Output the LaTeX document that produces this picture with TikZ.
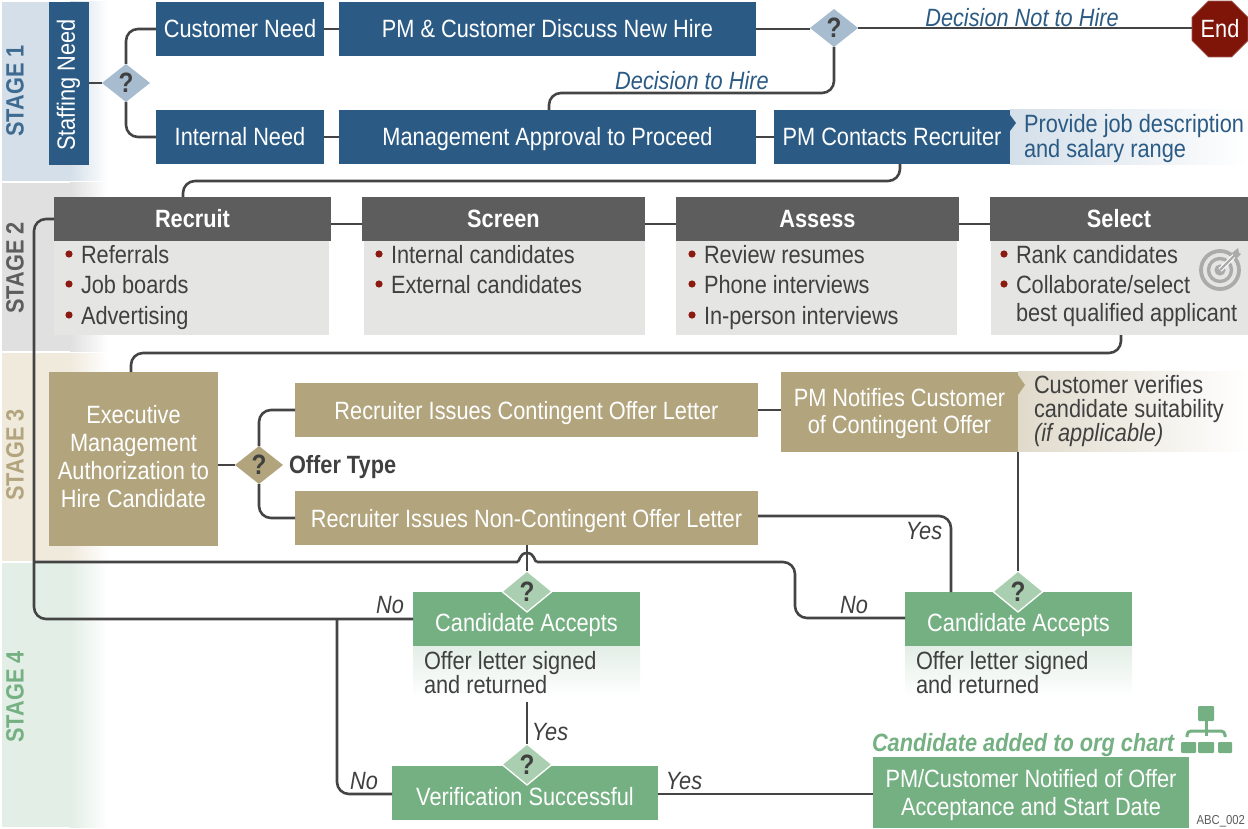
\documentclass[tikz,border=0pt]{standalone}
\usepackage{fontspec}
\setmainfont[FakeStretch=0.87]{Liberation Sans}
\usetikzlibrary{shapes.geometric}
\definecolor{cblue}{HTML}{2B5B85}
\definecolor{cbluel}{HTML}{D4DFE9}
\definecolor{cqblue}{HTML}{A7BCCF}
\definecolor{cgrey}{HTML}{5D5D5D}
\definecolor{cgreyb}{HTML}{E5E5E3}
\definecolor{cgreyl}{HTML}{E0E0E0}
\definecolor{ctan}{HTML}{B2A57E}
\definecolor{ctanl}{HTML}{F0EADD}
\definecolor{ctanc}{HTML}{E0DACB}
\definecolor{cgreen}{HTML}{75B083}
\definecolor{cgreenl}{HTML}{E3EEE6}
\definecolor{cqgreen}{HTML}{A9CFB0}
\definecolor{cred}{HTML}{7F1509}
\definecolor{cbul}{HTML}{8B1A10}
\definecolor{ctext}{HTML}{404040}
\definecolor{cline}{HTML}{444444}
\definecolor{cicon}{HTML}{ABABAB}
\tikzset{
  every node/.style={inner sep=0pt,outer sep=0pt},
  bxs/.style={align=center,text=white,font=\fontsize{25}{28}\selectfont,text height=20pt,text depth=2pt},
  mlt/.style={align=center,text=white,font=\fontsize{25}{28}\selectfont},
  bluebox/.style={bxs,fill=cblue},
  greybox/.style={bxs,fill=cgrey,font=\fontsize{25}{28}\selectfont\bfseries},
  greybody/.style={fill=cgreyb},
  tanbox/.style={bxs,fill=ctan},
  greenbox/.style={bxs,fill=cgreen,text height=26pt},
  question/.style={diamond,shape aspect=1.26,minimum width=48pt,minimum height=38pt,text=ctext,font=\fontsize{28}{28}\selectfont\bfseries},
  qblue/.style={question,fill=cqblue},
  qtan/.style={question,fill=ctan},
  qgreen/.style={question,fill=cqgreen,draw=white,line width=1.3pt,minimum width=50pt,minimum height=41pt},
  conn/.style={draw=cline,line width=2.6pt},
  rc/.style={rounded corners=12pt},
  lbl/.style={text=ctext,font=\fontsize{25}{25}\selectfont,anchor=west,align=left},
  bll/.style={text=ctext,font=\fontsize{25}{25}\selectfont,anchor=base west},
  ylab/.style={text=ctext,font=\fontsize{25}{25}\selectfont\itshape},
  blab/.style={text=cblue,font=\fontsize{25}{25}\selectfont\itshape},
  stagel/.style={rotate=90,font=\fontsize{25}{25}\selectfont\bfseries},
}
\newcommand{\bx}[7][]{%
  \pgfmathsetmacro{\bxw}{#5-#3}\pgfmathsetmacro{\bxh}{#6-#4}%
  \node[#2,anchor=north west,minimum width=\bxw pt,minimum height=\bxh pt,#1] (#7) at (#3,#4)}
\newcommand{\band}[3]{%
  \fill[#1] (2,#2) rectangle (70,#3);
  \shade[left color=#1,right color=white] (70,#2) rectangle (108,#3);}
\newcommand{\bul}[4]{%
  \fill[cbul] (#2-12,#3-9) circle (3.6pt);
  \node[bll] (#1) at (#2,#3) {#4};}
\begin{document}
\begin{tikzpicture}[x=1pt,y=-1pt]
\useasboundingbox (0,0) rectangle (1248,829);
\fill[white] (0,0) rectangle (1248,829);
% stage bands
\band{cbluel}{2}{181}
\band{cgreyl}{183}{351}
\band{ctanl}{353}{561}
\band{cgreenl}{563}{827}
\node[stagel,text=cblue!90!white] (s1) at (15,91) {STAGE 1};
\node[stagel,text=cgrey] (s2) at (15,268) {STAGE 2};
\node[stagel,text=ctan] (s3) at (15,455) {STAGE 3};
\node[stagel,text=cgreen] (s4) at (15,697) {STAGE 4};
% stage 1
\bx{bluebox}{49}{2}{89}{165}{staffbox} {};
\node[text=white,rotate=90,font=\fontsize{25}{25}\selectfont] (staff) at (68.5,85) {Staffing Need};
\node[qblue] (q1) at (126,83) {?};
\bx{bluebox}{156}{2}{324}{56}{cneed} {Customer Need};
\bx{bluebox}{339}{2}{756}{56}{disc} {PM \& Customer Discuss New Hire};
\bx{bluebox}{156}{110}{324}{164}{ineed} {Internal Need};
\bx{bluebox}{339}{110}{756}{164}{mgmt} {Management Approval to Proceed};
\shade[left color=cbluel,right color=white] (1010,110) rectangle (1248,165);
\bx{bluebox}{774}{110}{1010}{164}{pmc} {PM Contacts Recruiter};
\fill[cblue] (1010,115) -- (1016,123) -- (1010,131) -- cycle;
\node[qblue] (q2) at (834,28) {?};
\node[regular polygon,regular polygon sides=8,minimum size=60.6pt,fill=cred,draw=cred!70!white,line width=.6pt,text=white,font=\fontsize{25}{25}\selectfont] (endn) at (1220,29) {End};
\node[text=cblue,font=\fontsize{25}{25}\selectfont,anchor=west,align=left] (prov) at (1024,139) {\fontsize{25}{25}\selectfont Provide job description\\and salary range};
\node[blab] (dnot) at (1022,17.5) {Decision Not to Hire};
\node[blab] (dyes) at (692,81) {Decision to Hire};
% stage 2
\bx{greybody}{54}{241}{329}{335}{b1} {};
\bx{greybody}{364}{241}{645}{335}{b2} {};
\bx{greybody}{676}{241}{957}{335}{b3} {};
\bx{greybody}{991}{241}{1248}{335}{b4} {};
\bx{greybox}{54}{197}{331}{241}{recruit} {Recruit};
\bx{greybox}{362}{197}{645}{241}{screen} {Screen};
\bx{greybox}{676}{197}{959}{241}{assess} {Assess};
\bx{greybox}{990}{197}{1248}{241}{select} {Select};
\bul{l1}{81}{263}{Referrals}
\bul{l2}{81}{293}{Job boards}
\bul{l3}{81}{324}{Advertising}
\bul{l4}{391}{263}{Internal candidates}
\bul{l5}{391}{293}{External candidates}
\bul{l6}{704}{263}{Review resumes}
\bul{l7}{704}{293}{Phone interviews}
\bul{l8}{704}{324}{In-person interviews}
\bul{l9}{1016}{263}{Rank candidates}
\bul{l10}{1016}{293}{Collaborate/select}
\node[bll] (l11) at (1016,321) {best qualified applicant};
% target icon
\draw[cicon,line width=3.8pt] (1220,270) circle (19pt);
\draw[cicon,line width=3.4pt] (1220,270) circle (11.5pt);
\fill[cicon] (1220,270) circle (5.6pt);
\draw[white,line width=4.5pt] (1220,270) -- (1236,254);
\draw[cicon,line width=2.2pt] (1220,270) -- (1236,254);
\fill[cicon] (1232,253) -- (1238,248) -- (1239,253) -- (1241,254) -- (1236,259) -- cycle;
% stage 3
\bx{tanbox}{49}{372}{218}{546}{exec} {};
\node[mlt] (exect) at ([yshift=2pt]exec.center) {Executive\\Management\\Authorization to\\Hire Candidate};
\node[qtan] (q3) at (259,465) {?};
\node[text=ctext,font=\fontsize{25}{25}\selectfont\bfseries,anchor=west] (otype) at (289,467) {Offer Type};
\bx{tanbox}{295}{383}{758}{437}{cont} {Recruiter Issues Contingent Offer Letter};
\bx{tanbox}{295}{491}{758}{545}{noncont} {Recruiter Issues Non-Contingent Offer Letter};
\shade[left color=ctanc,right color=white] (1018,371) rectangle (1248,451);
\bx{tanbox}{781}{372}{1018}{452}{pmn} {};
\node[mlt,font=\fontsize{25}{27}\selectfont] (pmnt) at ([yshift=-2pt]pmn.center) {PM Notifies Customer\\of Contingent Offer};
\fill[ctan] (1018,375) -- (1025,385) -- (1018,395) -- cycle;
\node[lbl,font=\fontsize{25}{24}\selectfont] (cver) at (1034,411) {Customer verifies\\candidate suitability\\\itshape (if applicable)};
% stage 4
\shade[top color=cgreenl,bottom color=white] (413,646) rectangle (640,697);
\shade[top color=cgreenl,bottom color=white] (905,646) rectangle (1132,697);
\bx{greenbox}{413}{592}{640}{646}{ca1} {Candidate Accepts};
\bx{greenbox}{905}{592}{1132}{646}{ca2} {Candidate Accepts};
\node[qgreen] (q4) at (527,591.5) {?};
\node[qgreen] (q5) at (1018,591.5) {?};
\node[lbl,font=\fontsize{25}{24}\selectfont] (o1) at (424,673) {Offer letter signed\\and returned};
\node[lbl,font=\fontsize{25}{24}\selectfont] (o2) at (916,673) {Offer letter signed\\and returned};
\bx{greenbox}{392}{766}{658}{820}{ver} {Verification Successful};
\node[qgreen] (q6) at (527,764.5) {?};
\bx{greenbox}{873}{757}{1189}{828}{notif} {};
\node[mlt] (notift) at ([yshift=-3pt]notif.center) {PM/Customer Notified of Offer\\Acceptance and Start Date};
\node[text=cgreen,font=\fontsize{25}{25}\selectfont\bfseries\itshape,anchor=west] (added) at (872,745) {Candidate added to org chart};
\node[text=cgrey,font=\fontsize{13}{13}\selectfont,anchor=east] (abc) at (1245,821) {ABC\_002};
% org chart icon
\fill[cgreen,rounded corners=1pt] (1198,706) rectangle (1214,721);
\fill[cgreen,rounded corners=1pt] (1181,742) rectangle (1196,753);
\fill[cgreen,rounded corners=1pt] (1198,742) rectangle (1214,753);
\fill[cgreen,rounded corners=1pt] (1218,742) rectangle (1232,753);
\draw[cgreen,line width=3pt] (1206,721) -- (1206,736);
\draw[cgreen,line width=3pt,rounded corners=4pt] (1187,737) -- (1187,731) -- (1225,731) -- (1225,737);
% labels
\node[ylab] (yes1) at (924,531) {Yes};
\node[ylab] (no1) at (854,605) {No};
\node[ylab] (no2) at (390,605) {No};
\node[ylab] (yes2) at (550,732) {Yes};
\node[ylab] (no3) at (364,781) {No};
\node[ylab] (yes3) at (684,781) {Yes};
% free ends
\coordinate (recl) at (54,219);
\coordinate (lj) at (34,562);
\coordinate (o1b) at (527,702);
\coordinate (lb) at (337,619);
\coordinate (rt) at (951,592);
\coordinate (hire) at (549,110);
\coordinate (pmb) at (900,164);
\coordinate (recT) at (183,197);
\coordinate (selb) at (1121,335);
\coordinate (exT) at (131,372);
\coordinate (ncr) at (758,516);
% connectors
\draw[conn] (staffbox.east |- q1.west) -- (q1.west);
\draw[conn,rc] (q1.north) |- (cneed.west);
\draw[conn,rc] (q1.south) |- (ineed.west);
\draw[conn] (cneed.east) -- (disc.west);
\draw[conn] (disc.east) -- (disc.east -| q2.west);
\draw[conn] (q2.east) -- (endn.west |- q2.east);
\draw[conn] (ineed.east) -- (mgmt.west);
\draw[conn] (mgmt.east) -- (pmc.west);
\draw[conn,rc] (hire) -- (549,93) -- (834,93) -- (q2.south);
\draw[conn,rc] (pmb) -- (900,181) -- (183,181) -- (recT);
\draw[conn] (recruit.east |- 0,224) -- (screen.west |- 0,224);
\draw[conn] (screen.east |- 0,224) -- (assess.west |- 0,224);
\draw[conn] (assess.east |- 0,224) -- (select.west |- 0,224);
\draw[conn,rc] (selb) -- (1121,353) -- (131,353) -- (exT);
\draw[conn,rc] (recl) -- (34,219) -- (34,619) -- (ca1.west);
\draw[conn] (exec.east |- q3.west) -- (q3.west);
\draw[conn,rc] (q3.north) |- (cont.west);
\draw[conn,rc] (q3.south) |- (noncont.west);
\draw[conn] (cont.east |- 0,410) -- (pmn.west |- 0,410);
\draw[conn,rc] (ncr) -- (951,516) -- (rt);
\draw[conn] (pmn.south east) -- (q5.north);
\draw[conn] (noncont.south -| q4.north) -- (q4.north);
\draw[conn] (lj) -- (517,562) .. controls (520,562) and (519,553) .. (527,553) .. controls (535,553) and (534,562) .. (537,562);
\draw[conn,rc] (537,562) -- (795,562) -- (795,618) -- (ca2.west |- 0,618);
\draw[conn] (o1b) -- (q6.north);
\draw[conn,rc] (lb) -- (337,794) -- (ver.west |- 0,794);
\draw[conn] (ver.east |- 0,794) -- (notif.west |- 0,794);
\end{tikzpicture}
\end{document}
